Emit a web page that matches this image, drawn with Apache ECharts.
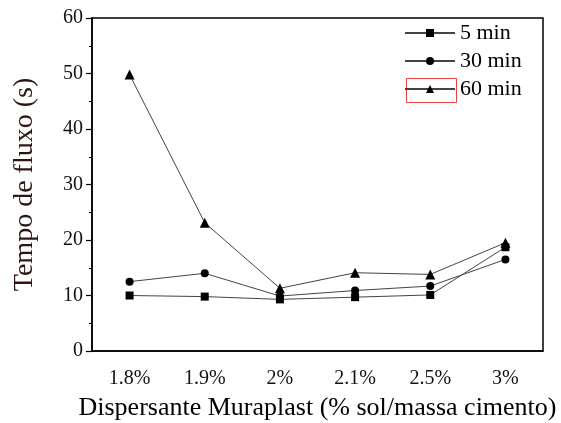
<!DOCTYPE html>
<html>
<head>
<meta charset="utf-8">
<script src="https://cdn.jsdelivr.net/npm/echarts@6/dist/echarts.min.js"></script>
<style>html,body{margin:0;padding:0;background:#fff;}#c{width:561px;height:423px;}</style>
</head>
<body>
<div id="c"></div>
<script>
const categories = ['1.8%', '1.9%', '2%', '2.1%', '2.5%', '3%'];
const min5 = [10.0, 9.8, 9.3, 9.7, 10.1, 18.7];
const min30 = [12.5, 14.0, 9.9, 10.9, 11.7, 16.5];
const min60 = [49.8, 23.1, 11.3, 14.1, 13.8, 19.5];
const seriesNames = ['5 min', '30 min', '60 min'];
const yTicks = [0, 60, 10];

const font = '"Liberation Serif", "Times New Roman", serif';
const chart = echarts.init(document.getElementById('c'), null, {renderer: 'canvas'});
const lineColor = '#444';
function mk(name, data, symbol, size) {
  return {
    name: name, type: 'line', data: data, symbol: symbol, symbolSize: size,
    xAxisIndex: 0,
    lineStyle: {color: lineColor, width: 1},
    itemStyle: {color: '#000'},
    emphasis: {disabled: true}, animation: false
  };
}
chart.setOption({
  animation: false,
  backgroundColor: '#fff',
  grid: {left: 92, right: 18, top: 18, bottom: 72, show: true, borderColor: '#000', borderWidth: 1.5,
         backgroundColor: 'transparent', containLabel: false, outerBoundsMode: 'none'},
  legend: {
    orient: 'vertical', left: 404, top: 22, padding: 0,
    itemWidth: 50, itemHeight: 10, itemGap: 6,
    data: seriesNames,
    textStyle: {fontFamily: font, fontSize: 22, color: '#000', padding: [0, 0, 0, 0]}
  },
  xAxis: [{
    type: 'category', data: categories, boundaryGap: true,
    axisLine: {lineStyle: {color: '#000', width: 1.5}},
    axisTick: {alignWithLabel: true, length: 6, lineStyle: {color: '#000', width: 1.2}},
    axisLabel: {fontFamily: font, fontSize: 20, color: '#111', margin: 18},
    name: 'Dispersante Muraplast (% sol/massa cimento)',
    nameLocation: 'middle', nameGap: 44,
    nameTextStyle: {fontFamily: font, fontSize: 26, color: '#000'}
  }, {
    type: 'category', data: categories, boundaryGap: true, position: 'bottom',
    axisLine: {show: false},
    axisTick: {length: 4, lineStyle: {color: '#000', width: 1}},
    axisLabel: {show: false}
  }],
  yAxis: {
    type: 'value', min: yTicks[0], max: yTicks[1], interval: yTicks[2],
    axisLine: {show: true, lineStyle: {color: '#000', width: 1.5}},
    axisTick: {show: true, length: 6, lineStyle: {color: '#000', width: 1.2}},
    minorTick: {show: true, splitNumber: 2, length: 3, lineStyle: {color: '#000', width: 1}},
    splitLine: {show: false},
    axisLabel: {fontFamily: font, fontSize: 20, color: '#111', margin: 9},
    name: 'Tempo de fluxo (s)', nameLocation: 'middle', nameGap: 53,
    nameTextStyle: {fontFamily: font, fontSize: 28, color: '#2b1612'}
  },
  series: [
    mk(seriesNames[0], min5, 'rect', 8),
    mk(seriesNames[1], min30, 'circle', 8),
    mk(seriesNames[2], min60, 'triangle', 10)
  ],
  graphic: [{
    type: 'rect', left: 404, top: 76, shape: {width: 50, height: 24},
    style: {fill: 'none', stroke: '#f04040', lineWidth: 1}, silent: true
  }]
});
</script>
</body>
</html>
